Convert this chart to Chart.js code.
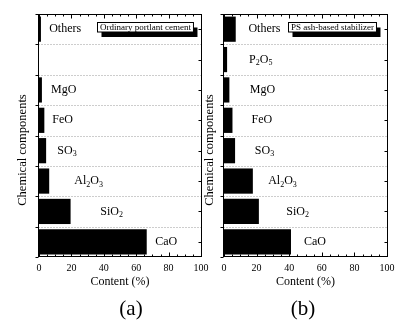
<!DOCTYPE html>
<html>
<head>
<meta charset="utf-8">
<script src="https://cdn.jsdelivr.net/npm/chart.js@4.4.1/dist/chart.umd.min.js"></script>
<style>
  html, body { margin: 0; padding: 0; background: #fff; }
  #wrap { position: relative; width: 400px; height: 320px; }
  canvas { position: absolute; left: 0; top: 0; }
</style>
</head>
<body>
<div id="wrap">
  <canvas id="cA" width="400" height="320"></canvas>
  <canvas id="cB" width="400" height="320"></canvas>
</div>
<script>
// ── data (bottom → top) ─────────────────────────────────────────────
const COMPONENTS = ["CaO", "SiO2", "Al2O3", "SO3", "FeO", "MgO", "P2O5", "Others"];
const OPC_CONTENT = [66.5, 19.5, 6.3, 4.4, 3.3, 1.8, null, 1.2];
const PSA_CONTENT = [41.1, 21.4, 17.7, 6.8, 5.2, 3.3, 1.9, 7.2];
const X_TICKS = [0, 20, 40, 60, 80, 100];
// where each component name sits, in Content (%) units
const OPC_LABEL_AT = [71.7, 37.8, 21.8, 11.3, 8.2, 7.4, null, 6.3];
const PSA_LABEL_AT = [49.1, 38.2, 27.1, 18.9, 16.9, 15.8, 15.4, 15.0];

const SERIF = "'Liberation Serif', 'Times New Roman', serif";

// chemical formula with digits as subscripts
function drawFormula(ctx, txt, x, y) {
  let cx = x;
  for (const part of txt.match(/\d+|\D+/g)) {
    const sub = /\d/.test(part);
    ctx.font = (sub ? "8px " : "12px ") + SERIF;
    ctx.fillText(part, cx, y + (sub ? 3.5 : 0));
    cx += ctx.measureText(part).width;
  }
}

// ── frame, ticks, separators, in-plot labels, legend box ────────────
const decor = {
  id: "decor",
  afterDraw(chart, args, o) {
    const { ctx, chartArea: a, scales: { x, y } } = chart;
    const n = COMPONENTS.length;
    const L = Math.round(a.left) - 0.5, R = Math.round(a.right) + 0.5;
    const T = Math.round(a.top) + 0.5, B = Math.round(a.bottom) - 0.5;
    ctx.save();

    // dotted separators between rows
    ctx.strokeStyle = "#9a9a9a";
    ctx.lineWidth = 1;
    ctx.setLineDash([1, 2]);
    for (let i = 0; i < n - 1; i++) {
      const py = Math.round(y.getPixelForValue(i + 0.5)) + 0.5;
      ctx.beginPath(); ctx.moveTo(L, py); ctx.lineTo(R, py); ctx.stroke();
    }
    ctx.setLineDash([]);

    // frame
    ctx.strokeStyle = "#000";
    ctx.strokeRect(L, T, R - L, B - T);

    // top / bottom ticks, inward
    ctx.beginPath();
    for (let v = 0; v <= 100; v += 5) {
      const px = Math.round(x.getPixelForValue(v)) + 0.5;
      const len = v % 20 === 0 ? 4 : 2;
      ctx.moveTo(px, B); ctx.lineTo(px, B - len);
      ctx.moveTo(px, T); ctx.lineTo(px, T + len);
    }
    // left ticks at row boundaries (outward), right ticks at row centres (inward)
    for (let i = -1; i < n; i++) {
      const pb = Math.round(y.getPixelForValue(i + 0.5)) + 0.5;
      ctx.moveTo(L, pb); ctx.lineTo(L - 3, pb);
      if (i >= 0) {
        const pc = Math.round(y.getPixelForValue(i)) + 0.5;
        ctx.moveTo(R, pc); ctx.lineTo(R - 3, pc);
      }
    }
    ctx.stroke();

    // component names
    ctx.fillStyle = "#000";
    ctx.textBaseline = "middle";
    ctx.textAlign = "left";
    o.labelAt.forEach((v, i) => {
      if (v == null) return;
      drawFormula(ctx, COMPONENTS[i], x.getPixelForValue(v), y.getPixelForValue(i));
    });

    // legend box with drop shadow
    ctx.font = "9px " + SERIF;
    const tw = ctx.measureText(o.legend).width;
    const bw = tw + 5, bh = 9.5;
    const bx = Math.round(a.right - o.legendRight - bw) + 0.5, by = 22.5;
    ctx.fillStyle = "#000";
    ctx.fillRect(bx + 4, by + 5, bw, bh);
    ctx.fillStyle = "#fff";
    ctx.fillRect(bx, by, bw, bh);
    ctx.strokeStyle = "#000";
    ctx.strokeRect(bx, by, bw, bh);
    ctx.fillStyle = "#000";
    ctx.fillText(o.legend, bx + 2.5, by + bh / 2 + 0.5);

    // y-axis title
    ctx.save();
    ctx.translate(o.yTitleX, 150);
    ctx.rotate(-Math.PI / 2);
    ctx.textAlign = "center";
    ctx.font = "12.5px " + SERIF;
    ctx.fillText("Chemical components", 0, 0);
    ctx.restore();

    // panel tag
    ctx.textAlign = "center";
    ctx.font = "21px " + SERIF;
    ctx.fillText(o.tag, o.tagX, 309);
    ctx.restore();
  },
};

function makePanel(id, values, opt) {
  return new Chart(document.getElementById(id), {
    type: "bar",
    data: {
      labels: COMPONENTS,
      datasets: [{
        data: values,
        backgroundColor: "#000",
        borderWidth: 0,
        categoryPercentage: 1,
        barPercentage: 0.83,
      }],
    },
    options: {
      indexAxis: "y",
      responsive: false,
      animation: false,
      layout: { padding: { top: 14, right: opt.padRight, left: 0, bottom: 0 } },
      plugins: {
        legend: { display: false },
        tooltip: { enabled: false },
        decor: opt.decor,
      },
      scales: {
        x: {
          min: 0,
          max: 100,
          afterBuildTicks: (s) => { s.ticks = X_TICKS.map((v) => ({ value: v })); },
          grid: { display: false, drawTicks: false },
          border: { display: false },
          ticks: { color: "#000", padding: 5, maxRotation: 0, font: { family: SERIF, size: 10 } },
          title: {
            display: true,
            text: "Content (%)",
            color: "#000",
            font: { family: SERIF, size: 12 },
            padding: { top: 0, bottom: 31 },
          },
          afterFit: (s) => { s.height = 63; },
        },
        y: {
          reverse: true,
          grid: { display: false, drawTicks: false },
          border: { display: false },
          ticks: { display: false },
          afterFit: (s) => { s.width = opt.yWidth; },
        },
      },
    },
    plugins: [decor],
  });
}

makePanel("cA", OPC_CONTENT, {
  yWidth: 39,
  padRight: 199,
  decor: { labelAt: OPC_LABEL_AT, legend: "Ordinary portlant cement", legendRight: 8, yTitleX: 23, tag: "(a)", tagX: 131 },
});

makePanel("cB", PSA_CONTENT, {
  yWidth: 224,
  padRight: 13,
  decor: { labelAt: PSA_LABEL_AT, legend: "PS ash-based stabilizer", legendRight: 11, yTitleX: 209.5, tag: "(b)", tagX: 303 },
});
</script>
</body>
</html>
